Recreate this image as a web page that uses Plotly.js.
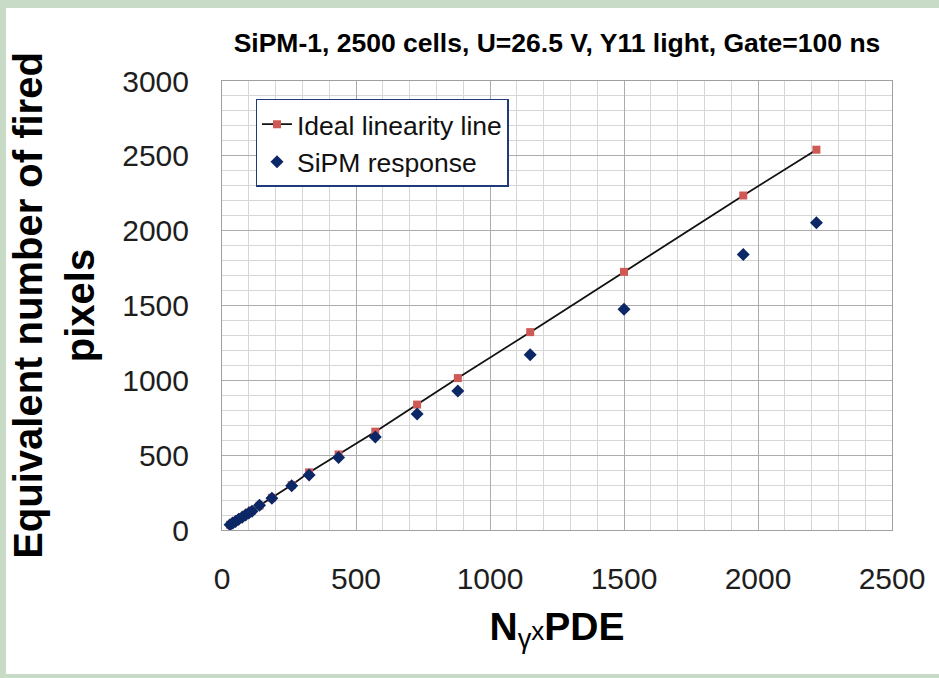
<!DOCTYPE html>
<html>
<head>
<meta charset="utf-8">
<script src="https://cdn.plot.ly/plotly-3.0.1.min.js"></script>
<style>
  html, body { margin: 0; padding: 0; background: #c7dbc7; width: 939px; height: 678px; overflow: hidden; }
  #chart { position: absolute; left: 6px; top: 8px; width: 933px; height: 666px; background: #ffffff; }
</style>
</head>
<body>
<div id="chart"></div>
<script>
// Number of photons times PDE (x) for each light level
const nPhotonsPDE = [30, 40, 50, 62, 75, 88, 100, 112, 140, 186, 260, 325, 435, 572, 728, 880, 1150, 1500, 1945, 2218];
// Ideal linear response (no saturation)
const idealPixels = [35, 46, 58, 72, 87, 102, 116, 130, 163, 215, 300, 385, 505, 657, 838, 1015, 1322, 1725, 2235, 2541];
// Measured SiPM response, equivalent number of fired pixels
const sipmPixels = [35, 46, 57, 71, 86, 100, 113, 126, 165, 212, 295, 368, 485, 621, 775, 928, 1171, 1475, 1840, 2053];

const xTicks = [0, 500, 1000, 1500, 2000, 2500];
const yTicks = [0, 500, 1000, 1500, 2000, 2500, 3000];

const FONT = '"Liberation Sans", Arial, sans-serif';

const traces = [
  {
    name: 'Ideal linearity line',
    x: nPhotonsPDE,
    y: idealPixels,
    mode: 'lines+markers',
    type: 'scatter',
    line: { color: '#111111', width: 1.8 },
    marker: { symbol: 'square', size: 8, color: '#cf5a55' }
  },
  {
    name: 'SiPM response',
    x: nPhotonsPDE,
    y: sipmPixels,
    mode: 'markers',
    type: 'scatter',
    marker: { symbol: 'diamond', size: 10, color: '#0c2766' }
  }
];

const axisCommon = {
  showgrid: true,
  gridcolor: '#acacac',
  gridwidth: 1,
  zeroline: false,
  showline: true,
  linecolor: '#a0a0a0',
  linewidth: 1,
  mirror: true,
  ticks: '',
  tickfont: { family: FONT, size: 30, color: '#1e1e1e' },
  fixedrange: true
};

const layout = {
  width: 933,
  height: 666,
  paper_bgcolor: '#ffffff',
  plot_bgcolor: '#ffffff',
  margin: { l: 216, r: 47, t: 73, b: 144 },
  showlegend: true,
  title: {
    text: '<b>SiPM-1, 2500 cells, U=26.5 V, Y11 light, Gate=100 ns</b>',
    font: { family: FONT, size: 26.5, color: '#000000' },
    xref: 'paper', x: 0.5, xanchor: 'center',
    yref: 'container', y: 1 - 35 / 666, yanchor: 'middle'
  },
  xaxis: Object.assign({}, axisCommon, {
    range: [0, 2500],
    tickvals: xTicks,
    ticktext: xTicks.map(String),
    ticklabelstandoff: 22,
    minor: { dtick: 100, tick0: 0, showgrid: true, gridcolor: '#d6d6d6', gridwidth: 1 },
    title: {
      text: '<b>N</b><sub>γ</sub><span style="font-size:26px">x</span><b>PDE</b>',
      font: { family: FONT, size: 39, color: '#000000' },
      standoff: 18
    }
  }),
  yaxis: Object.assign({}, axisCommon, {
    range: [0, 3000],
    tickvals: yTicks,
    ticktext: yTicks.map(String),
    ticklabelstandoff: 26,
    minor: { dtick: 100, tick0: 0, showgrid: true, gridcolor: '#d6d6d6', gridwidth: 1 },
    title: {
      text: '<b>Equivalent number of fired<br>pixels</b>',
      font: { family: FONT, size: 40, color: '#000000' },
      standoff: 22
    }
  }),
  legend: {
    x: 0.05, y: 0.96, xanchor: 'left', yanchor: 'top',
    bgcolor: '#ffffff',
    bordercolor: '#1f3a78',
    borderwidth: 1.5,
    font: { family: FONT, size: 26.5, color: '#111111' },
    tracegroupgap: 0
  }
};

Plotly.newPlot('chart', traces, layout, { displayModeBar: false, staticPlot: true });
</script>
</body>
</html>
